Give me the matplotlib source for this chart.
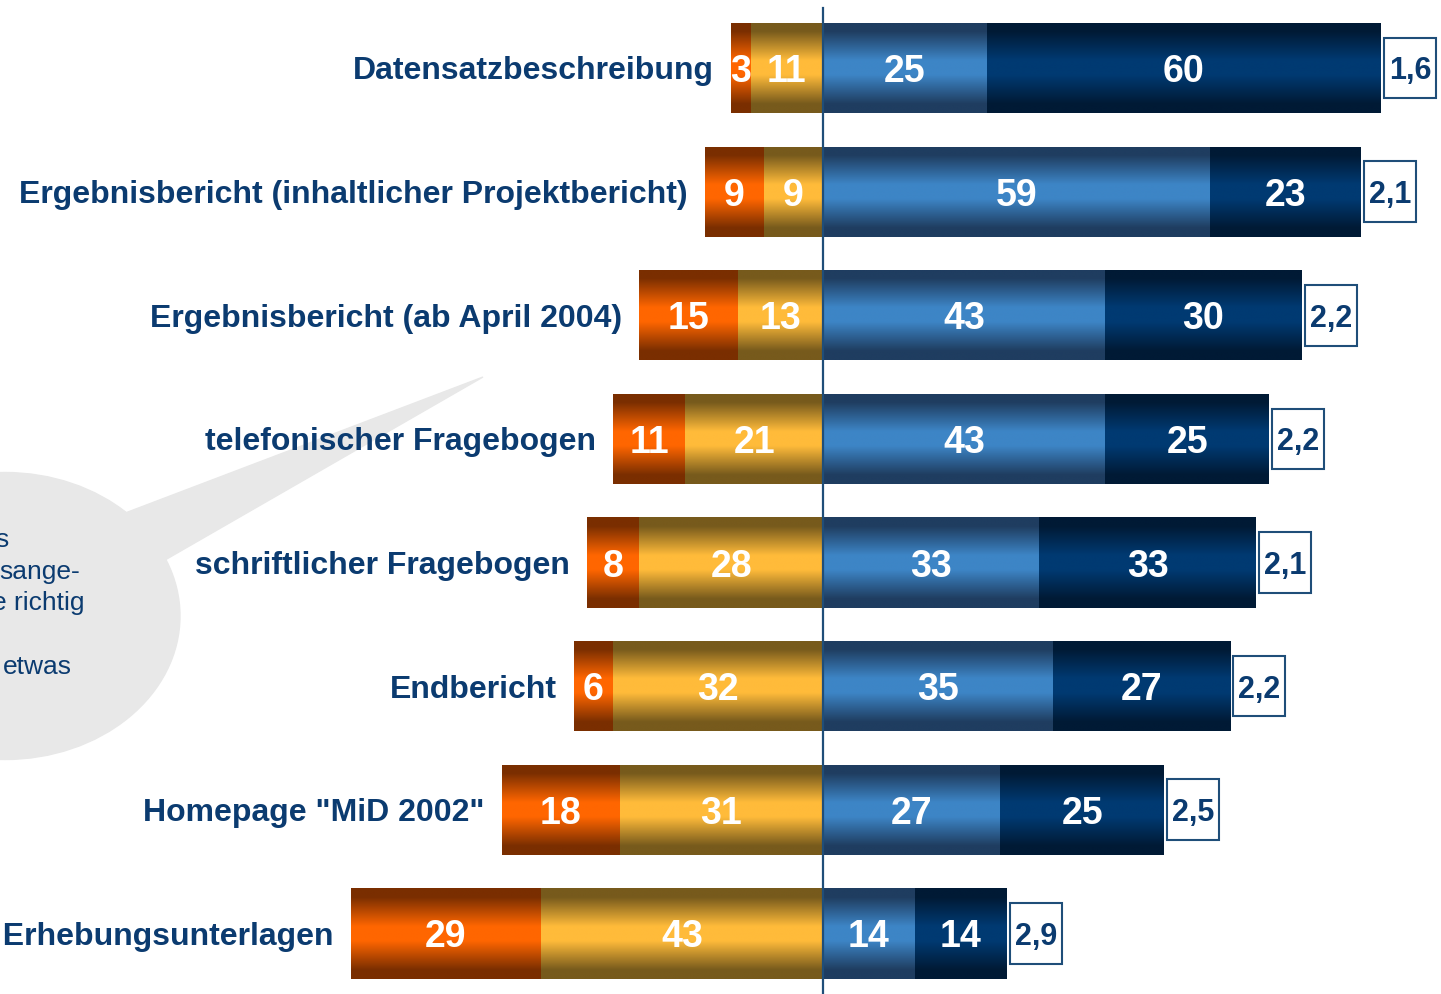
#!/usr/bin/env python3
"""Diverging stacked bars (ratings of MiD 2002 documents) with gradient fills."""
import matplotlib
matplotlib.use("Agg")
import matplotlib.pyplot as plt
import numpy as np
from matplotlib.colors import LinearSegmentedColormap
from matplotlib.patches import Ellipse, Polygon, Rectangle

plt.rcParams["font.family"] = ["Liberation Sans", "DejaVu Sans"]

labels = ["Datensatzbeschreibung",
          "Ergebnisbericht (inhaltlicher Projektbericht)",
          "Ergebnisbericht (ab April 2004)",
          "telefonischer Fragebogen",
          "schriftlicher Fragebogen",
          "Endbericht",
          'Homepage "MiD 2002"',
          "e Erhebungsunterlagen"]
orange = [3, 9, 15, 11, 8, 6, 18, 29]
gold = [11, 9, 13, 21, 28, 32, 31, 43]
lblue = [25, 59, 43, 43, 33, 35, 27, 14]
navy = [60, 23, 30, 25, 33, 27, 25, 14]
means = ["1,6", "2,1", "2,2", "2,2", "2,1", "2,2", "2,5", "2,9"]

bubble_lines = [("s", 9, 540), ("sange-", 80, 572), ("e richtig", 84, 603), ("etwas", 72, 667)]

NAVY_TXT = "#0b3b70"
LINE = "#1f4e79"
# (edge colour, centre colour) of each segment's vertical gradient
grads = {"orange": ("#7a2e00", "#ff6600"),
         "gold": ("#775a1c", "#ffbb3a"),
         "lblue": ("#1f3d60", "#3d85c6"),
         "navy": ("#001a35", "#003a72")}


def cmap_for(edge, mid):
    return LinearSegmentedColormap.from_list(
        "g", [(0, edge), (0.1, edge), (0.42, mid), (0.58, mid), (0.9, edge), (1, edge)])


W, H = 1441, 994
fig = plt.figure(figsize=(W / 100, H / 100), dpi=100)
ax = fig.add_axes([0, 0, 1, 1])
PX = 6.56  # pixels per percentage point
ax.set_xlim(-823 / PX, (W - 823) / PX)
ax.set_ylim(7.49, -0.55)
ax.axis("off")

# speech bubble (decoration, partly outside the figure), behind everything
fig.patches.append(Ellipse((5 / W, 1 - 616 / H), 350 / W, 287 / H,
                           transform=fig.transFigure, color="#e8e8e8", zorder=-2))
tail = [(100, 600), (120, 515), (483, 377), (165, 560)]
fig.patches.append(Polygon([(x / W, 1 - y / H) for x, y in tail],
                           transform=fig.transFigure, color="#e8e8e8", zorder=-2))
for txt, xr, yc in bubble_lines:
    fig.text(xr / W, 1 - yc / H, txt, ha="right", va="center", fontsize=19,
             color=NAVY_TXT, zorder=-1)

y = np.arange(len(labels))
o = np.array(orange)
g = np.array(gold)
lb = np.array(lblue)
nv = np.array(navy)
bh = 0.73

segments = [("orange", -(o + g), o), ("gold", -g, g),
            ("lblue", np.zeros_like(lb), lb), ("navy", lb, nv)]
grad = np.linspace(0, 1, 256).reshape(-1, 1)
for key, left, width in segments:
    bars = ax.barh(y, width, left=left, height=bh, color="none", lw=0, zorder=2)
    cm = cmap_for(*grads[key])
    for b, v in zip(bars, width):
        x0, y0 = b.get_x(), b.get_y()
        im = ax.imshow(grad, cmap=cm, aspect="auto", zorder=1,
                       extent=(x0, x0 + b.get_width(), y0 + bh, y0),
                       interpolation="bilinear")
        im.set_clip_path(b)
        ax.text(x0 + b.get_width() / 2, y0 + bh / 2, str(v), ha="center",
                va="center_baseline", color="white", fontsize=27,
                fontweight="bold", zorder=4)

# category labels left of each bar
for yi, lab, left in zip(y, labels, -(o + g)):
    ax.text(left - 2.6, yi, lab, ha="right", va="center_baseline", fontsize=23,
            fontweight="bold", color=NAVY_TXT)

# mean value boxes right of each bar
bw, bhx = 52 / PX, 0.49
for yi, m, right in zip(y, means, lb + nv):
    x0 = right + 0.5
    ax.add_patch(Rectangle((x0, yi - bhx / 2), bw, bhx, facecolor="white",
                           edgecolor=LINE, lw=1.5, zorder=3))
    ax.text(x0 + bw / 2, yi, m, ha="center", va="center_baseline", fontsize=22,
            fontweight="bold", color=NAVY_TXT, zorder=4)

ax.plot([0, 0], [-0.485, 7.49], color=LINE, lw=1.6, zorder=5)

fig.savefig("out.png", dpi=100)
